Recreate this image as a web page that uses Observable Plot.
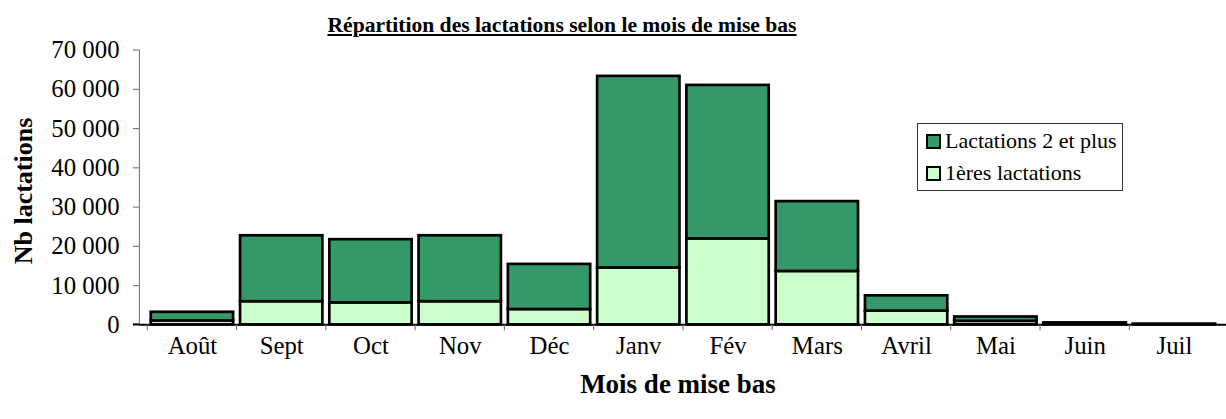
<!DOCTYPE html>
<html>
<head>
<meta charset="utf-8">
<script src="https://cdn.jsdelivr.net/npm/d3@7"></script>
<script src="https://cdn.jsdelivr.net/npm/@observablehq/plot@0.6"></script>
<style>
  html, body { margin: 0; padding: 0; background: #fff; overflow: hidden; }
  #wrap { position: relative; width: 1226px; height: 419px; overflow: hidden; font-family: "Liberation Serif", "Times New Roman", serif; color: #000; }
  #title { position: absolute; left: 0; width: 1124px; top: 13px; text-align: center; font-weight: bold; font-size: 21.6px; text-decoration: underline; font-family: "Liberation Serif", serif; }
  #ytitle { position: absolute; left: 24px; top: 191px; transform: translate(-50%, -50%) rotate(-90deg); font-weight: bold; font-size: 26px; white-space: nowrap; font-family: "Liberation Serif", serif; }
  #xtitle { position: absolute; left: 678px; top: 384px; transform: translate(-50%, -50%); font-weight: bold; font-size: 27px; white-space: nowrap; font-family: "Liberation Serif", serif; }
  #legend { position: absolute; left: 917px; top: 123px; width: 206px; height: 68px; border: 1px solid #333; box-sizing: border-box; font-size: 22px; font-family: "Liberation Serif", serif; }
  .row { position: absolute; left: 8px; display: flex; align-items: center; white-space: nowrap; font-family: "Liberation Serif", serif; }
  .row span { font-family: "Liberation Serif", serif; }
  .sw { width: 11px; height: 11px; border: 2px solid #000; margin-right: 4px; }
  #chart { position: absolute; left: 0; top: 0; }
</style>
</head>
<body>
<div id="wrap">
  <div id="chart"></div>
  <div id="title">Répartition des lactations selon le mois de mise bas</div>
  <div id="ytitle">Nb lactations</div>
  <div id="xtitle">Mois de mise bas</div>
  <div id="legend"></div>
</div>
<script>
const months = ["Août", "Sept", "Oct", "Nov", "Déc", "Janv", "Fév", "Mars", "Avril", "Mai", "Juin", "Juil"];
const firstLact = [1000, 5900, 5600, 5900, 3900, 14500, 21900, 13600, 3500, 900, 250, 80];
const secondPlus = [2200, 16800, 16100, 16800, 11500, 48800, 39100, 17800, 3900, 1100, 250, 70];
const seriesNames = ["1ères lactations", "Lactations 2 et plus"];
const seriesColors = ["#CCFFCC", "#339966"];
const yTicks = [0, 10000, 20000, 30000, 40000, 50000, 60000, 70000];

const data = [];
months.forEach((m, i) => {
  data.push({month: m, series: seriesNames[0], value: firstLact[i]});
  data.push({month: m, series: seriesNames[1], value: secondPlus[i]});
});

const fmt = d => d3.format(",")(d).replace(/,/g, "\u00a0");

const chart = Plot.plot({
  width: 1236,
  height: 419,
  marginLeft: 140,
  marginRight: 0,
  marginTop: 50,
  marginBottom: 92,
  style: {fontFamily: "Liberation Serif, serif", fontSize: "25px", color: "#000", background: "transparent"},
  x: {domain: months, padding: 0.08, label: null},
  y: {domain: [0, 70000], label: null},
  color: {domain: seriesNames, range: seriesColors},
  marks: [
    Plot.axisY({ticks: yTicks, tickFormat: fmt, tickSize: 6, tickPadding: 14, stroke: "#666", fontSize: 25, fontFamily: "Liberation Serif, serif"}),
    Plot.axisX({tickSize: 0, tickPadding: 12, fontSize: 25, fontFamily: "Liberation Serif, serif"}),
    Plot.frame({anchor: "left", stroke: "#666"}),
    Plot.barY(data, {x: "month", y: "value", fill: "series", stroke: "#000", strokeWidth: 2.7, order: seriesNames}),
    Plot.ruleY([0], {stroke: "#000", strokeWidth: 2})
  ]
});
document.getElementById("chart").appendChild(chart);

// category-boundary ticks on the x axis, positioned from Plot's own x scale
const xs = chart.scale("x");
const ys = chart.scale("y");
const svg = d3.select(chart);
const y0 = ys.apply(0);
const bounds = months.map(m => xs.apply(m) - (xs.step - xs.bandwidth) / 2);
svg.append("g").selectAll("line").data(bounds).join("line")
  .attr("x1", d => d).attr("x2", d => d)
  .attr("y1", y0).attr("y2", y0 + 6)
  .attr("stroke", "#666").attr("stroke-width", 1);
// extend baseline to meet the y tick
svg.append("line").attr("x1", 134).attr("x2", 140).attr("y1", y0).attr("y2", y0).attr("stroke", "#000").attr("stroke-width", 2);

// legend
const legend = document.getElementById("legend");
[[seriesNames[1], seriesColors[1]], [seriesNames[0], seriesColors[0]]].forEach(([name, col], i) => {
  const row = document.createElement("div");
  row.className = "row";
  row.style.top = (i === 0 ? 4 : 36) + "px";
  row.innerHTML = `<div class="sw" style="background:${col}"></div><span>${name}</span>`;
  legend.appendChild(row);
});
</script>
</body>
</html>
